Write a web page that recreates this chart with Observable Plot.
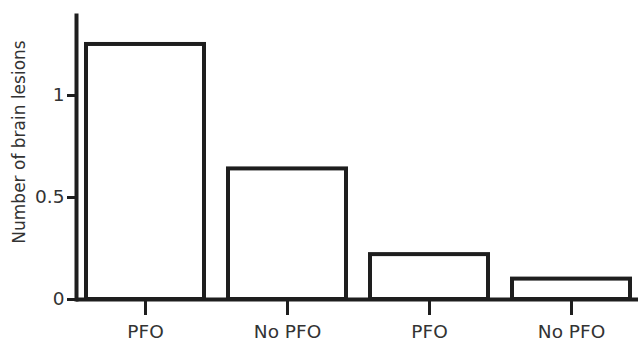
<!DOCTYPE html>
<html>
<head>
<meta charset="utf-8">
<script src="https://cdn.jsdelivr.net/npm/d3@7"></script>
<script src="https://cdn.jsdelivr.net/npm/@observablehq/plot@0.6"></script>
<style>
  html, body { margin: 0; padding: 0; background: #fff; }
  svg { font-family: "DejaVu Sans", sans-serif; }
</style>
</head>
<body>
<div id="chart"></div>
<script>
const groupIds = ["g1", "g2", "g3", "g4"];
const groupLabels = ["PFO", "No PFO", "PFO", "No PFO"];
const lesions = [1.25, 0.64, 0.22, 0.10];
const yTicks = [0, 0.5, 1];
const yTickLabels = ["0", "0.5", "1"];
const yTitle = "Number of brain lesions";

const data = groupIds.map((id, i) => ({id, label: groupLabels[i], value: lesions[i]}));
const labelOf = Object.fromEntries(groupIds.map((id, i) => [id, groupLabels[i]]));
const yLabelOf = new Map(yTicks.map((t, i) => [t, yTickLabels[i]]));

const ink = "#1e1e1e";
const textInk = "#333333";

const chart = Plot.plot({
  width: 638,
  height: 342,
  marginLeft: 76,
  marginRight: 0,
  marginTop: 15,
  marginBottom: 43,
  style: {fontFamily: "DejaVu Sans, sans-serif", fontSize: "17px", color: textInk, background: "#fff"},
  x: {domain: groupIds, range: [73.3, 642.5], paddingInner: 0.17, paddingOuter: 0.085},
  y: {domain: [0, 1.392]},
  marks: [
    Plot.barY(data, {x: "id", y: "value", fill: "white", stroke: ink, strokeWidth: 4}),
    Plot.axisX({tickSize: 16, tickPadding: 9, strokeWidth: 3, stroke: ink, tickFormat: d => labelOf[d], fontSize: 18.5, fill: textInk, label: null}),
    Plot.axisY({ticks: yTicks, tickSize: 9, tickPadding: 3, strokeWidth: 3, stroke: ink, tickFormat: d => yLabelOf.get(d), fontSize: 18.5, fill: textInk, label: null}),
    Plot.text([yTitle], {frameAnchor: "left", text: d => d, rotate: -90, dx: -57, dy: -15.5, fontSize: 17, fill: textInk, textAnchor: "middle"}),
    Plot.frame({anchor: "left", stroke: ink, strokeWidth: 4}),
    Plot.ruleY([0], {stroke: ink, strokeWidth: 4})
  ]
});
document.getElementById("chart").appendChild(chart);
</script>
</body>
</html>
